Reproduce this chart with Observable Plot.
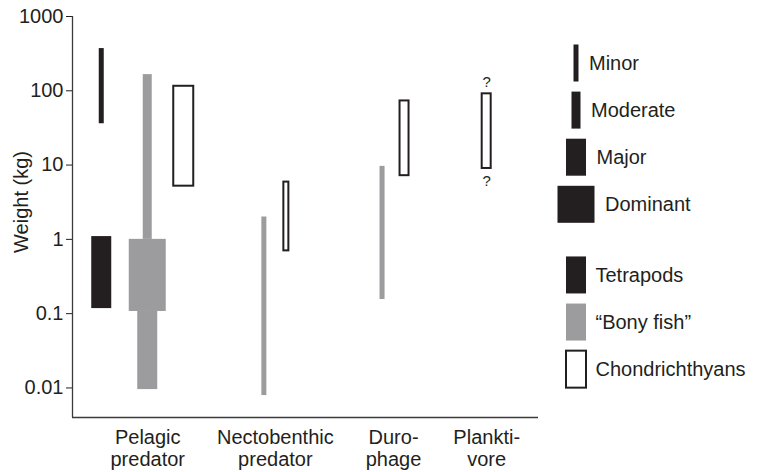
<!DOCTYPE html>
<html>
<head>
<meta charset="utf-8">
<script src="https://cdn.jsdelivr.net/npm/d3@7"></script>
<script src="https://cdn.jsdelivr.net/npm/@observablehq/plot@0.6"></script>
<style>
  html, body { margin: 0; padding: 0; background: #fff; }
  #chart { display: flex; flex-direction: row; width: 761px; height: 472px; }
  #chart svg { display: block; }
</style>
</head>
<body>
<div id="chart"></div>
<script>
// ---------------- DATA ----------------
const categories = ["Pelagic\npredator", "Nectobenthic\npredator", "Duro-\nphage", "Plankti-\nvore"];
const groups = ["Tetrapods", "\u201cBony fish\u201d", "Chondrichthyans"];
const abundanceLevels = ["Minor", "Moderate", "Major", "Dominant"];
const yTickValues = [1000, 100, 10, 1, 0.1, 0.01];
const yTickLabels = ["1000", "100", "10", "1", "0.1", "0.01"];
const yLabel = "Weight (kg)";

// one entry per drawn segment (category index, group, abundance, weight range in kg)
const segCategory  = [0, 0, 0, 0, 0, 0, 1, 1, 2, 2, 3];
const segGroup     = ["Tetrapods", "Tetrapods", "\u201cBony fish\u201d", "\u201cBony fish\u201d", "\u201cBony fish\u201d", "Chondrichthyans",
                      "\u201cBony fish\u201d", "Chondrichthyans", "\u201cBony fish\u201d", "Chondrichthyans", "Chondrichthyans"];
const segAbundance = ["Minor", "Major", "Moderate", "Dominant", "Major", "Major", "Minor", "Minor", "Minor", "Moderate", "Moderate"];
const segLowKg     = [36, 0.117, 1.0, 0.107, 0.0095, 5.2, 0.0079, 0.70, 0.155, 7.2, 9.0];
const segHighKg    = [370, 1.09, 165, 1.0, 0.107, 115, 2.0, 5.9, 9.6, 73, 91];
const segUncertain = [false, false, false, false, false, false, false, false, false, false, true];

// ---------------- STYLE / LAYOUT ----------------
const FONT = "'Liberation Sans', Arial, Helvetica, sans-serif";
const FS = 20;
const INK = "#231f20";
const levelWidth = { Minor: 5, Moderate: 9, Major: 20, Dominant: 37 };
const groupStyle = {
  "Tetrapods": { fill: INK },
  "\u201cBony fish\u201d": { fill: "#9c9c9e" },
  "Chondrichthyans": { fill: "#ffffff", stroke: INK, strokeWidth: 2 }
};
const slotOffsets = { 1: [0], 2: [-11, 11], 3: [-46, 0, 36] };

const W = 545, H = 472;
const M = { left: 72, right: 7, top: 16, bottom: 55 };
const frameW = W - M.left - M.right;
const yDomain = [0.004, 1000];
const LEFT_PAD = 38, LABEL_GAP = 32;

// category centres laid out from label widths
const ctx = document.createElement("canvas").getContext("2d");
ctx.font = `${FS}px ${FONT}`;
const labelW = categories.map(c => d3.max(c.split("\n"), s => ctx.measureText(s).width));
let cursor = LEFT_PAD;
const catCenter = labelW.map(w => { const c = cursor + w / 2; cursor += w + LABEL_GAP; return c; });

// groups present per category -> slot offsets
const presentGroups = categories.map((_, ci) =>
  groups.filter(g => segGroup.some((sg, i) => sg === g && segCategory[i] === ci)));

const segments = segCategory.map((ci, i) => {
  const pg = presentGroups[ci];
  const cx = catCenter[ci] + slotOffsets[pg.length][pg.indexOf(segGroup[i])];
  const w = levelWidth[segAbundance[i]];
  return { cat: ci, group: segGroup[i], level: segAbundance[i], low: segLowKg[i], high: segHighKg[i],
           uncertain: segUncertain[i], cx, x1: cx - w / 2, x2: cx + w / 2 };
});

const labelData = categories.map((c, i) => ({ text: c, x: catCenter[i] }));

const main = Plot.plot({
  width: W, height: H,
  marginLeft: M.left, marginRight: M.right, marginTop: M.top, marginBottom: M.bottom,
  style: { fontFamily: FONT, fontSize: FS + "px", color: INK, background: "#fff", overflow: "visible" },
  x: { type: "linear", domain: [0, frameW], axis: null },
  y: {
    type: "log", domain: yDomain, ticks: yTickValues,
    tickFormat: d => yTickLabels[yTickValues.indexOf(d)],
    tickSize: 6, tickPadding: 3, label: null
  },
  marks: [
    Plot.ruleX([0], { stroke: "#3a3a3a", strokeWidth: 1.3 }),
    Plot.ruleY([yDomain[0]], { stroke: "#3a3a3a", strokeWidth: 1.3 }),
    ...groups.map(g => Plot.rect(segments.filter(s => s.group === g), {
      x1: "x1", x2: "x2", y1: "low", y2: "high", ...groupStyle[g]
    })),
    Plot.text(segments.filter(s => s.uncertain), { x: "cx", y: "high", text: () => "?", lineAnchor: "bottom", dy: -7, fontSize: 15, fill: INK }),
    Plot.text(segments.filter(s => s.uncertain), { x: "cx", y: "low", text: () => "?", lineAnchor: "top", dy: 7, fontSize: 15, fill: INK }),
    Plot.text(labelData, { x: "x", y: () => yDomain[0], text: "text", lineAnchor: "top", dy: 11, lineHeight: 1.1, fontSize: FS, fill: INK }),
    Plot.text([yLabel], { frameAnchor: "left", rotate: -90, dx: -51, dy: -15, textAnchor: "middle", lineAnchor: "middle", fontSize: FS, fill: INK })
  ]
});

// ---------------- LEGEND ----------------
const LW = 761 - W;
const legCx = 31, rowStep = 47.1, firstRow = 63, rowH = 37;
const sizeRows = abundanceLevels.map((a, i) => ({ key: a, w: levelWidth[a], cy: firstRow + i * rowStep, gap: 10 }));
const groupRows = groups.map((g, j) => ({ key: g, group: g, w: levelWidth.Major, cy: firstRow + (abundanceLevels.length + 0.5 + j) * rowStep, gap: 9 }));

const legend = Plot.plot({
  width: LW, height: H, margin: 0,
  style: { fontFamily: FONT, fontSize: FS + "px", color: INK, background: "#fff" },
  x: { domain: [0, LW], range: [0, LW], axis: null },
  y: { domain: [0, H], range: [0, H], axis: null },
  marks: [
    Plot.rect(sizeRows, { x1: d => legCx - d.w / 2, x2: d => legCx + d.w / 2, y1: d => d.cy - rowH / 2, y2: d => d.cy + rowH / 2, fill: INK }),
    ...groupRows.map(r => Plot.rect([r], {
      x1: d => legCx - d.w / 2, x2: d => legCx + d.w / 2, y1: d => d.cy - rowH / 2, y2: d => d.cy + rowH / 2, ...groupStyle[r.group]
    })),
    Plot.text([...sizeRows, ...groupRows], { x: d => legCx + d.w / 2 + d.gap, y: "cy", text: "key", textAnchor: "start", lineAnchor: "middle", fontSize: FS, fill: INK })
  ]
});

const root = document.getElementById("chart");
root.appendChild(main);
root.appendChild(legend);
</script>
</body>
</html>
